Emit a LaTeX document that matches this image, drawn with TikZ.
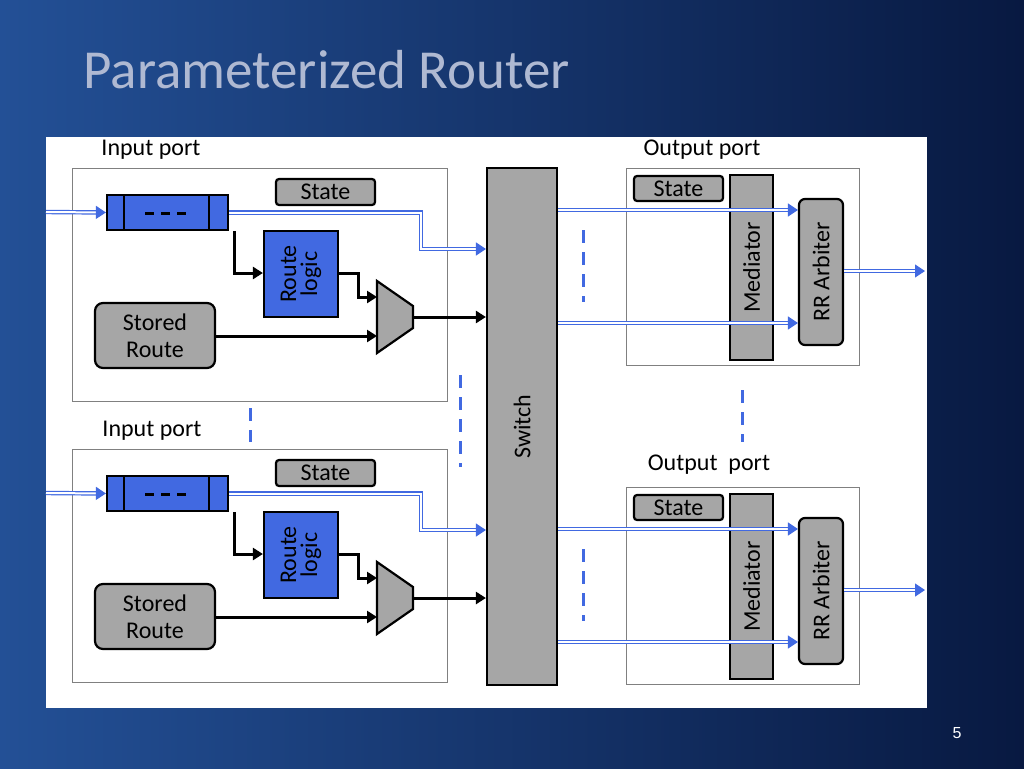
\documentclass[tikz,border=0pt]{standalone}
\usepackage{fontspec}
\setmainfont{Carlito}
\newfontfamily\arialfont{Liberation Sans}
\usetikzlibrary{arrows.meta,calc,positioning}
\definecolor{flowblue}{RGB}{65,105,225}
\definecolor{boxgray}{RGB}{166,166,166}
\definecolor{navy}{RGB}{8,25,65}
\definecolor{skyblue}{RGB}{35,80,150}
\begin{document}
\begin{tikzpicture}
[x=1pt,y=-1pt,
portbox/.style={draw=gray, fill=white, line width=0.8pt},
graybox/.style={draw=black, fill=boxgray, line width=2.2pt, rounded corners=3pt, inner sep=0pt},
bluebox/.style={draw=black, fill=flowblue, line width=2.2pt, inner sep=0pt},
label/.style={font=\fontsize{24}{27}\selectfont},
blk/.style={line width=3pt, -{Triangle[length=10pt,width=12pt]}},
flow/.style={draw=flowblue, double=white, double distance=2pt, line width=1.2pt, -{Triangle[length=10pt,width=13pt]}},
dots/.style={flowblue, line width=3pt, dash pattern=on 13pt off 9pt},
]
\useasboundingbox (0,0) rectangle (1024,768);
% background
\shade[left color=skyblue, right color=navy] (0,0) rectangle (1024,768);
\node[anchor=west, font=\fontsize{55}{60}\selectfont, text={rgb,255:red,175;green,185;blue,210}] (title) at (80,70) {Parameterized Router};
\node[font=\arialfont\fontsize{16}{18}\selectfont, text=white] (pnum) at (957,733) {5};
\fill[white] (46,137) rectangle (927,708);
% switch
\node[bluebox, fill=boxgray, minimum width=70pt, minimum height=517pt] (sw) at (522,426.5) {};
\node[label, rotate=90] at (sw) {Switch};
% input and output ports
\foreach \p/\dy in {a/0,b/281}{
  \draw[portbox] (72,168+\dy) rectangle (447,401+\dy);
  \node[bluebox, minimum width=121pt, minimum height=35pt] (q\p) at (167.5,212.5+\dy) {};
  \draw[line width=2.2pt] (124,195+\dy) -- (124,230+\dy) (209,195+\dy) -- (209,230+\dy);
  \draw[line width=3pt, dash pattern=on 9pt off 7pt] (145,213+\dy) -- (193,213+\dy);
  \node[graybox, label, minimum width=99pt, minimum height=26pt] (st\p) at (325.5,192+\dy) {State};
  \node[bluebox, minimum width=74pt, minimum height=86pt] (rl\p) at (301,274+\dy) {};
  \node[label, rotate=90, align=center] at (rl\p) {Route\\[-6pt]logic};
  \node[graybox, label, rounded corners=8pt, minimum width=120pt, minimum height=65pt, align=center] (sr\p) at (155,335.5+\dy) {Stored\\[0pt]Route};
  \draw[fill=boxgray, line width=2.2pt] (377,281+\dy) coordinate (mt\p) -- (413,306+\dy) -- (413,328+\dy) -- (377,353+\dy) coordinate (mb\p) -- cycle;
  \coordinate (mo\p) at (413,317+\dy);
  \coordinate (in\p) at (46,212+\dy);
  \draw[flow] (in\p) -- (q\p.west);
  \draw[flow, rounded corners=0pt] (q\p.east) -- ++(192,0) |- (sw.west |- 0,249+\dy);
  \draw[blk] ($(q\p.south west)+(129,0)$) |- (rl\p.west |- 0,273+\dy);
  \draw[blk] (rl\p.east |- 0,273+\dy) -| (358,297+\dy) -- (377,297+\dy);
  \draw[blk] (sr\p.east |- 0,336+\dy) -- (377,336+\dy);
  \draw[blk] (mo\p) -- (sw.west |- mo\p);
}
\foreach \p/\dy in {a/0,b/319}{
  \draw[portbox] (626,168+\dy) rectangle (859,365+\dy);
  \node[graybox, label, minimum width=89pt, minimum height=25pt] (os\p) at (678.5,188.5+\dy) {State};
  \node[graybox, rounded corners=0pt, minimum width=43pt, minimum height=185pt] (me\p) at (751.5,267.5+\dy) {};
  \node[label, rotate=90] at (me\p) {Mediator};
  \node[graybox, rounded corners=6pt, minimum width=44pt, minimum height=146pt] (rr\p) at (821,272+\dy) {};
  \node[label, rotate=90] at (rr\p) {RR Arbiter};
  \draw[flow] (sw.east |- 0,210+\dy) -- (rr\p.west |- 0,210+\dy);
  \draw[flow] (sw.east |- 0,323+\dy) -- (rr\p.west |- 0,323+\dy);
  \coordinate (out\p) at (925,271+\dy);
  \draw[flow] (rr\p.east |- out\p) -- (out\p);
}
% labels
\node[label] (ipa) at (151,150) {Input port};
\node[label] (ipb) at (152,431) {Input port};
\node[label] (opa) at (702,150) {Output port};
\node[label] (opb) at (709,465) {Output\ \ port};
% ellipses
\draw[dots] (250,408) -- (250,442);
\draw[dots] (460,375) -- (460,467);
\draw[dots] (583,230) -- (583,302);
\draw[dots] (583,549) -- (583,621);
\draw[dots] (742,390) -- (742,442);
\end{tikzpicture}
\end{document}
